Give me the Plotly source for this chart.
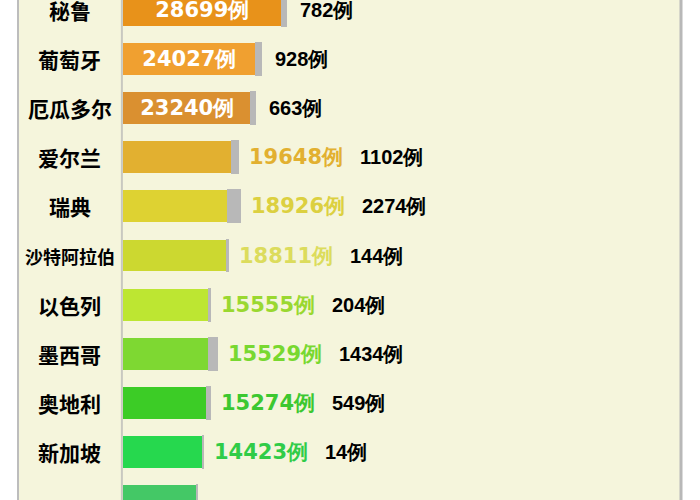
import plotly.graph_objects as go

# 数据
countries = ["秘鲁", "葡萄牙", "厄瓜多尔", "爱尔兰", "瑞典", "沙特阿拉伯",
             "以色列", "墨西哥", "奥地利", "新加坡", "卡塔尔"]
cases = [28699, 24027, 23240, 19648, 18926, 18811, 15555, 15529, 15274, 14423, 13409]
deaths = [782, 928, 663, 1102, 2274, 144, 204, 1434, 549, 14, 10]

bar_colors = ["#E8921A", "#F0A030", "#DA9030", "#E2B030", "#DED232", "#CCD830",
              "#BDE632", "#7ED832", "#3CCC26", "#26D84E", "#44C866"]
label_colors = ["#FFFFFF", "#FFFFFF", "#FFFFFF", "#E2B030", "#DCD040", "#DCDC5C",
                "#9AD830", "#78D830", "#3CC830", "#30CC48", "#40C060"]

n_inside = 3  # 前三名数字写在柱内

fig = go.Figure()

# 确诊数柱
fig.add_trace(go.Bar(
    y=countries, x=cases, orientation="h",
    marker=dict(color=bar_colors, line=dict(width=0)),
    width=0.65,
    text=[f"{c}例" if i < n_inside else "" for i, c in enumerate(cases)],
    textposition=["inside" if i < n_inside else "none" for i in range(len(cases))],
    insidetextanchor="middle",
    textfont=dict(family="DejaVu Sans", size=21, color="white", weight="bold"),
    hoverinfo="skip",
))

# 死亡数（灰色）
fig.add_trace(go.Bar(
    y=countries, x=deaths, orientation="h",
    marker=dict(color="#B8B8B8", line=dict(width=2, color="#B8B8B8")),
    width=0.65,
    hoverinfo="skip",
))

annotations = []
for i, name in enumerate(countries):
    end = cases[i] + deaths[i]
    # 国名
    annotations.append(dict(
        x=-0.095, xref="paper", y=name, yref="y", text=name,
        showarrow=False, xanchor="center", yanchor="middle",
        font=dict(family="Noto Sans CJK SC", size=21 if len(name) <= 4 else 18,
                  color="black", weight="bold"),
    ))
    if i >= n_inside:
        annotations.append(dict(
            x=end, y=name, xref="x", yref="y", text=f"{cases[i]}例",
            showarrow=False, xanchor="left", yanchor="middle", xshift=9,
            font=dict(family="DejaVu Sans", size=21, color=label_colors[i], weight="bold"),
        ))
    annotations.append(dict(
        x=end, y=name, xref="x", yref="y", text=f"{deaths[i]}例",
        showarrow=False, xanchor="left", yanchor="middle",
        xshift=12 if i < n_inside else 120,
        font=dict(family="Liberation Sans", size=20, color="black", weight="bold"),
    ))

left_edge = (18 - 123) / 558

fig.update_layout(
    width=700, height=500,
    margin=dict(l=123, r=19, t=0, b=0),
    barmode="stack",
    showlegend=False,
    paper_bgcolor="white",
    plot_bgcolor="#F5F5DC",
    xaxis=dict(range=[0, 101000], visible=False),
    yaxis=dict(categoryorder="array", categoryarray=countries,
               range=[9.98, -0.204], visible=False),
    annotations=annotations,
    shapes=[
        dict(type="rect", xref="paper", yref="paper", x0=left_edge, x1=1, y0=0, y1=1,
             fillcolor="#F5F5DC", line=dict(width=0), layer="below"),
        dict(type="line", xref="paper", yref="paper", x0=left_edge, x1=left_edge, y0=0, y1=1,
             line=dict(color="#BDBDBD", width=2), layer="above"),
        dict(type="line", xref="paper", yref="paper", x0=1, x1=1, y0=0, y1=1,
             line=dict(color="#B8B8B8", width=3), layer="above"),
        dict(type="line", xref="paper", yref="paper", x0=-0.002, x1=-0.002, y0=0, y1=1,
             line=dict(color="#C8C8C0", width=2), layer="below"),
    ],
)

# 去掉页面默认的 8px 边距
fig.write_html("out.html", config={"displayModeBar": False},
               post_script="document.body.style.margin='0';document.body.style.overflow='hidden';")
